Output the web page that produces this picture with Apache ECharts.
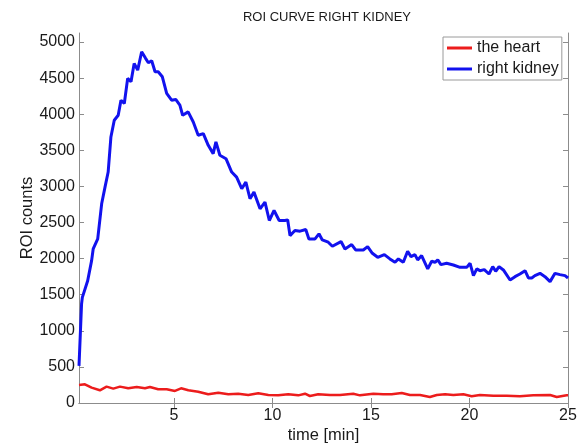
<!DOCTYPE html>
<html>
<head>
<meta charset="utf-8">
<script src="https://cdn.jsdelivr.net/npm/echarts@6/dist/echarts.min.js"></script>
<style>
    html, body {margin: 0; padding: 0; background: #fff;}
    #roi {width: 584px; height: 446px;}
</style>
</head>
<body>
<div id="roi"></div>
<script>
// right kidney curve (time in min, counts)
var kidneyTime = [0.18, 0.31, 0.35, 0.62, 0.82, 0.90, 1.13, 1.33, 1.50, 1.66, 1.80, 1.97, 2.17, 2.31, 2.48,
    2.65, 2.82, 2.98, 3.16, 3.36, 3.56, 3.70, 3.87, 4.04, 4.20, 4.41, 4.63, 4.88, 5.09, 5.30, 5.44,
    5.72, 5.98, 6.23, 6.49, 6.74, 6.99, 7.13, 7.33, 7.64, 7.93, 8.18, 8.44, 8.65, 8.86, 9.06, 9.37,
    9.62, 9.84, 10.08, 10.34, 10.63, 10.77, 10.89, 11.14, 11.40, 11.69, 11.85, 12.16, 12.36, 12.53,
    12.83, 13.04, 13.48, 13.68, 14.02, 14.22, 14.61, 14.83, 15.07, 15.34, 15.68, 15.96, 16.22, 16.39,
    16.64, 16.86, 17.03, 17.23, 17.37, 17.57, 17.88, 18.08, 18.25, 18.39, 18.55, 18.84, 19.18, 19.52,
    19.86, 20.03, 20.20, 20.37, 20.53, 20.75, 20.99, 21.18, 21.33, 21.50, 21.72, 22.06, 22.31, 22.56,
    22.82, 22.99, 23.16, 23.32, 23.58, 23.83, 24.09, 24.34, 24.59, 24.85, 25.00];
var kidneyCounts = [514, 1371, 1463, 1694, 1972, 2134, 2273, 2759, 2990, 3199, 3685, 3917, 3986, 4194, 4149,
    4496, 4449, 4704, 4611, 4866, 4774, 4713, 4741, 4588, 4588, 4518, 4288, 4194, 4204, 4125, 3986,
    4032, 3893, 3708, 3731, 3569, 3454, 3616, 3431, 3384, 3199, 3129, 2968, 3060, 2829, 2921, 2690,
    2782, 2528, 2667, 2528, 2528, 2537, 2319, 2389, 2380, 2403, 2273, 2273, 2343, 2259,
    2227, 2171, 2236, 2134, 2194, 2120, 2120, 2166, 2074, 2018, 2055, 1996, 1949, 1996,
    1949, 2102, 2028, 2055, 1982, 2042, 1857, 1963, 1949, 1982, 1917, 1935, 1912, 1879,
    1879, 1935, 1764, 1857, 1833, 1847, 1787, 1889, 1824, 1889, 1843, 1704, 1750, 1787,
    1833, 1732, 1732, 1764, 1796, 1750, 1681, 1796, 1778, 1764, 1732];

// heart curve
var heartTime = [0.18, 0.48, 0.82, 1.24, 1.58, 1.92, 2.26, 2.68, 3.11, 3.53, 3.78, 4.20, 4.63, 5.05, 5.36,
    5.73, 6.23, 6.74, 7.25, 7.76, 8.26, 8.77, 9.28, 9.79, 10.29, 10.80, 11.31, 11.65, 11.90, 12.32,
    12.92, 13.43, 14.10, 14.44, 15.12, 15.62, 16.05, 16.56, 16.98, 17.49, 17.99, 18.34, 18.76, 19.18,
    19.69, 20.11, 20.53, 21.21, 21.89, 22.56, 23.24, 24.09, 24.43, 24.93, 25.00];
var heartCounts = [250, 259, 213, 176, 227, 199, 227, 204, 222, 204, 222, 190, 190, 167, 204,
    176, 157, 121, 143, 121, 129, 111, 134, 111, 106, 121, 106, 129, 97, 121,
    111, 111, 129, 106, 129, 121, 121, 139, 111, 111, 83, 111, 121, 111,
    121, 93, 111, 101, 101, 93, 106, 111, 83, 106, 106];

var xTicks = [5, 10, 15, 20, 25];
var yTicks = [0, 500, 1000, 1500, 2000, 2500, 3000, 3500, 4000, 4500, 5000];

function pairs(t, v) {
    var list = [];
    for (var i = 0; i < t.length; i++) {
        list.push([t[i], v[i]]);
    }
    return list;
}

var font = 'Liberation Sans, Arial, sans-serif';
var boxColor = '#8c8c8c';
var textColor = '#1a1a1a';

var chart = echarts.init(document.getElementById('roi'), null, {renderer: 'canvas'});
chart.setOption({
    animation: false,
    backgroundColor: '#fff',
    title: {
        text: 'ROI CURVE RIGHT KIDNEY',
        left: 322,
        top: 6,
        textAlign: 'center',
        textStyle: {fontFamily: font, fontSize: 13, fontWeight: 'normal', color: textColor}
    },
    grid: {left: 79, right: 16, top: 33, bottom: 43, outerBoundsMode: 'none'},
    legend: {
        orient: 'vertical',
        left: 443,
        top: 37,
        padding: [3, 3, 3, 4],
        itemGap: 5,
        itemWidth: 25,
        itemHeight: 3,
        icon: 'rect',
        borderColor: '#9a9a9a',
        borderWidth: 1,
        backgroundColor: '#fff',
        textStyle: {fontFamily: font, fontSize: 16, color: textColor},
        data: ['the heart', 'right kidney']
    },
    xAxis: [
        {
            type: 'value',
            min: 0.18,
            max: 25,
            name: 'time [min]',
            nameLocation: 'middle',
            nameGap: 24,
            nameMoveOverlap: false,
            nameTextStyle: {fontFamily: font, fontSize: 16.5, color: textColor},
            axisLine: {lineStyle: {color: boxColor}},
            axisTick: {inside: true, length: 5, customValues: xTicks, lineStyle: {color: boxColor}},
            axisLabel: {customValues: xTicks, margin: 5, fontFamily: font, fontSize: 16, color: textColor},
            splitLine: {show: false}
        },
        {
            type: 'value',
            position: 'top',
            min: 0.18,
            max: 25,
            axisLine: {lineStyle: {color: boxColor}},
            axisTick: {inside: true, length: 5, customValues: xTicks, lineStyle: {color: boxColor}},
            axisLabel: {show: false},
            splitLine: {show: false}
        }
    ],
    yAxis: [
        {
            type: 'value',
            min: 0,
            max: 5125,
            name: 'ROI counts',
            nameLocation: 'middle',
            nameGap: 43,
            nameMoveOverlap: false,
            nameTextStyle: {fontFamily: font, fontSize: 16.5, color: textColor},
            axisLine: {show: true, lineStyle: {color: boxColor}},
            axisTick: {show: true, inside: true, length: 5, customValues: yTicks, lineStyle: {color: boxColor}},
            axisLabel: {
                customValues: yTicks, margin: 4, fontFamily: font, fontSize: 16, color: textColor,
                formatter: function (v) { return String(v); }
            },
            splitLine: {show: false}
        },
        {
            type: 'value',
            position: 'right',
            min: 0,
            max: 5125,
            axisLine: {show: true, lineStyle: {color: boxColor}},
            axisTick: {show: true, inside: true, length: 5, customValues: yTicks, lineStyle: {color: boxColor}},
            axisLabel: {show: false},
            splitLine: {show: false}
        }
    ],
    series: [
        {
            name: 'the heart',
            type: 'line',
            showSymbol: false,
            color: '#ec1c1c',
            lineStyle: {width: 2.5, color: '#ec1c1c'},
            data: pairs(heartTime, heartCounts)
        },
        {
            name: 'right kidney',
            type: 'line',
            showSymbol: false,
            color: '#1212ee',
            lineStyle: {width: 3, color: '#1212ee'},
            data: pairs(kidneyTime, kidneyCounts)
        }
    ]
});
</script>
</body>
</html>
